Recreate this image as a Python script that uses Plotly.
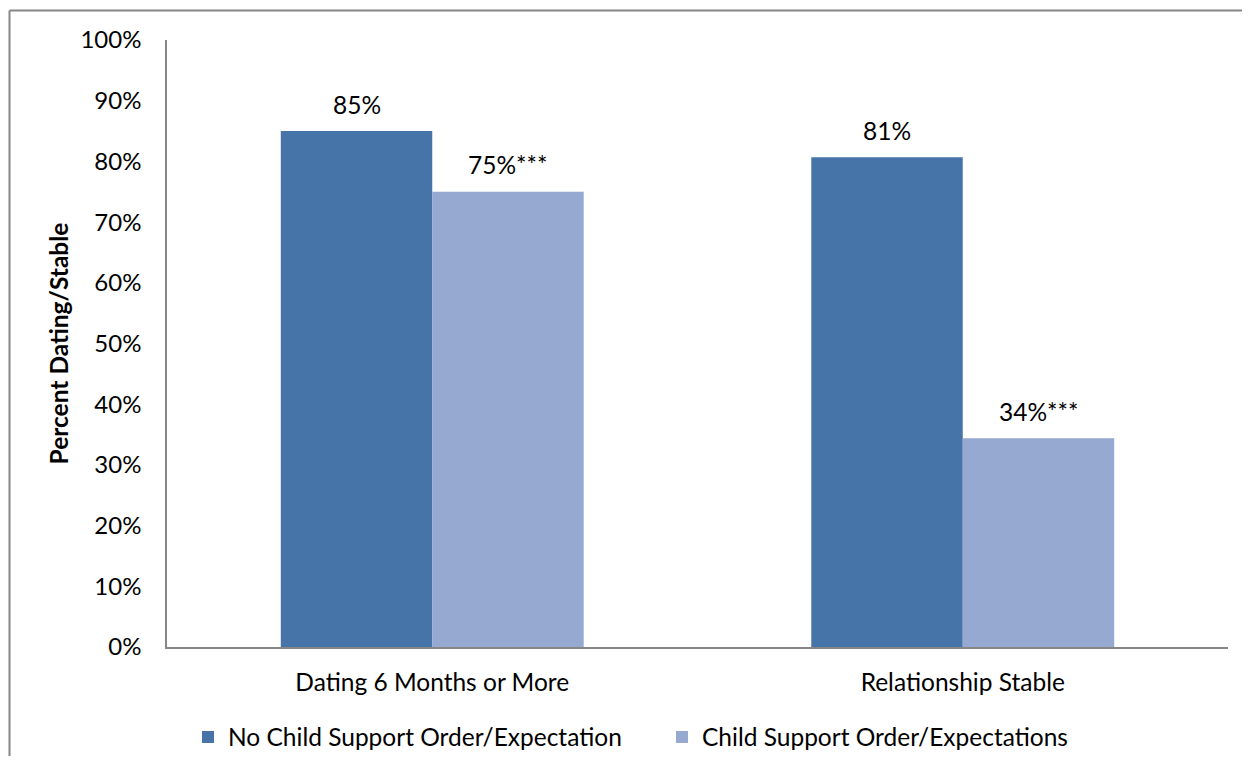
import plotly.graph_objects as go

categories = ["Dating 6 Months or More", "Relationship Stable"]
series_names = ["No Child Support Order/Expectation", "Child Support Order/Expectations"]
no_order = [85.0, 80.7]
with_order = [75.0, 34.4]
no_order_labels = ["85%", "81%"]
with_order_labels = ["75%***", "34%***"]
y_ticks = [0, 10, 20, 30, 40, 50, 60, 70, 80, 90, 100]

DARK = "#4674A8"
LIGHT = "#95A9D1"
AXIS = "#868686"
FONT = "Lato"
FS = 24.5
TICK_FS = 24

# the page body adds an 8px margin; size the figure so it fits inside the window
W, H = 1234, 748
ML, MR, MT, MB = 159, 14, 32, 109
BARGAP = 0.429

fig = go.Figure()
fig.add_trace(go.Bar(x=categories, y=no_order, name=series_names[0],
                     marker=dict(color=DARK, line=dict(width=0))))
fig.add_trace(go.Bar(x=categories, y=with_order, name=series_names[1],
                     marker=dict(color=LIGHT, line=dict(width=0))))

plot_w = W - ML - MR
plot_h = H - MT - MB
bar_w = plot_w / len(categories) * (1 - BARGAP) / 2

annotations = []
for i, c in enumerate(categories):
    annotations.append(dict(x=c, y=no_order[i], text=no_order_labels[i], showarrow=False,
                            xshift=-bar_w / 2, yshift=27, yanchor="middle",
                            font=dict(family=FONT, size=FS, color="#000")))
    annotations.append(dict(x=c, y=with_order[i], text=with_order_labels[i], showarrow=False,
                            xshift=bar_w / 2, yshift=27, yanchor="middle",
                            font=dict(family=FONT, size=FS, color="#000")))

# outer chart frame: only its left and top edges fall inside the picture
fx = (1.5 - ML) / plot_w
fy_top = (H - MB - 2.5) / plot_h
fy_bot = (H - MB - H) / plot_h
fx_right = (W - ML) / plot_w
frame = [
    dict(type="line", xref="paper", yref="paper", x0=fx, x1=fx, y0=fy_top, y1=fy_bot,
         line=dict(color=AXIS, width=2), layer="below"),
    dict(type="line", xref="paper", yref="paper", x0=fx, x1=fx_right, y0=fy_top, y1=fy_top,
         line=dict(color=AXIS, width=2), layer="below"),
]

fig.update_layout(
    width=W, height=H,
    margin=dict(l=ML, r=MR, t=MT, b=MB, pad=0, autoexpand=False),
    paper_bgcolor="white", plot_bgcolor="white",
    barmode="group", bargap=BARGAP, bargroupgap=0,
    font=dict(family=FONT, size=FS, color="#000"),
    xaxis=dict(showline=True, linecolor=AXIS, linewidth=1.5, ticks="",
               showgrid=False, zeroline=False, ticklabelstandoff=13,
               tickfont=dict(family=FONT, size=FS, color="#000")),
    yaxis=dict(range=[0, 100], tickvals=y_ticks, ticktext=[f"{v}%" for v in y_ticks],
               showline=True, linecolor=AXIS, linewidth=1.5, ticks="",
               showgrid=False, zeroline=False, ticklabelstandoff=19,
               tickfont=dict(family=FONT, size=TICK_FS, color="#000")),
    showlegend=True,
    legend=dict(orientation="h", x=(180 - ML) / plot_w, xanchor="left",
                yref="container", y=1 - 729 / H, yanchor="middle",
                entrywidth=429, entrywidthmode="pixels",
                font=dict(family=FONT, size=FS, color="#000"),
                bgcolor="rgba(0,0,0,0)", itemclick=False),
    annotations=annotations,
    shapes=frame,
)
fig.update_yaxes(title=dict(text="<b>Percent Dating/Stable</b>", standoff=5,
                            font=dict(family=FONT, size=24.5, color="#000")))

fig.write_html("out.html")
